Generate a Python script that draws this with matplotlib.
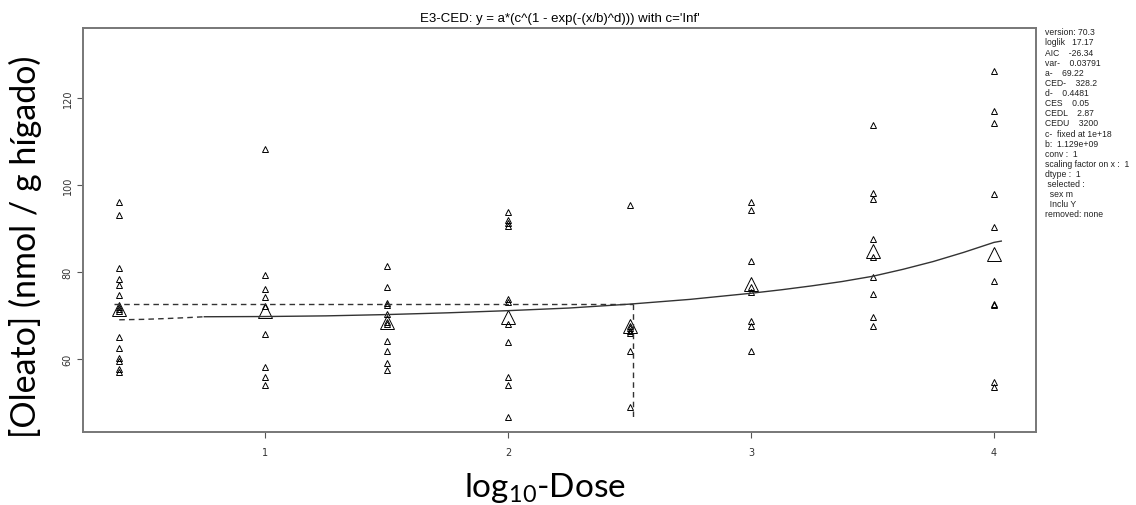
import matplotlib
matplotlib.use('Agg')
import matplotlib.pyplot as plt

# log10 dose of each group (control drawn at 0.4)
group_x = [0.4, 1.0, 1.5, 2.0, 2.5, 3.0, 3.5, 4.0]

obs = [
    [96.0, 93.2, 80.9, 78.4, 77.0, 74.8, 72.0, 71.5, 71.0, 65.0, 62.5, 60.2, 59.6, 57.7, 56.9],
    [108.3, 79.2, 76.1, 74.3, 72.2, 65.7, 58.2, 55.8, 54.0],
    [81.4, 76.6, 72.8, 72.4, 70.3, 68.5, 68.0, 64.1, 61.8, 59.0, 57.5],
    [93.9, 91.9, 91.3, 90.5, 73.8, 73.2, 68.0, 63.8, 55.8, 53.9, 46.6],
    [95.5, 67.5, 67.0, 66.5, 66.0, 61.9, 48.9],
    [96.0, 94.3, 82.5, 76.5, 75.3, 68.8, 67.5, 61.9],
    [113.9, 98.2, 96.8, 87.6, 83.4, 78.8, 74.9, 69.6, 67.5],
    [126.3, 116.9, 114.2, 97.9, 90.3, 77.9, 72.6, 72.5, 54.6, 53.5],
]

# group means (large triangles)
means = [71.5, 71.0, 68.5, 69.6, 67.6, 77.3, 84.9, 84.1]

# fitted curve
fit_x = [0.75, 1.0, 1.25, 1.5, 1.75, 2.0, 2.25, 2.5, 2.75, 2.875, 3.0, 3.125, 3.25,
         3.375, 3.5, 3.625, 3.75, 3.875, 4.0, 4.03]
fit_y = [69.7, 69.75, 69.9, 70.2, 70.6, 71.1, 71.7, 72.6, 73.7, 74.4, 75.1, 75.9, 76.8,
         77.8, 79.0, 80.6, 82.4, 84.5, 86.8, 87.1]
# dashed start of the curve near the control
start_x = [0.4, 0.5, 0.6, 0.68, 0.75]
start_y = [69.0, 69.1, 69.3, 69.5, 69.7]

ced_x = 2.516
ces_y = 72.68
ced_bottom = 46.7

info = ["version: 70.3", "loglik   17.17", "AIC    -26.34", "var-    0.03791",
        "a-    69.22", "CED-    328.2", "d-    0.4481", "CES    0.05",
        "CEDL    2.87", "CEDU    3200", "c-  fixed at 1e+18", "b:  1.129e+09",
        "conv :  1", "scaling factor on x :  1", "dtype :  1", " selected :",
        "  sex m", "  Inclu Y", "removed: none"]

fig = plt.figure(figsize=(11.36, 5.06), dpi=100)
ax = fig.add_axes([0.0731, 0.1443, 0.8389, 0.7984])

for gx, ys in zip(group_x, obs):
    ax.plot([gx] * len(ys), ys, linestyle='none', marker='^', markersize=5,
            markerfacecolor='none', markeredgecolor='black', markeredgewidth=0.7)
ax.plot(group_x, means, linestyle='none', marker='^', markersize=10.5,
        markerfacecolor='none', markeredgecolor='black', markeredgewidth=0.7)

ax.plot(fit_x, fit_y, color='#333333', linewidth=1.0)
ax.plot(start_x, start_y, color='#333333', linewidth=1.0, linestyle=(0, (4, 3)))
ax.plot([group_x[0] - 0.02, ced_x], [ces_y, ces_y], color='#333333', linewidth=1.0,
        linestyle=(0, (4, 3)))
ax.plot([ced_x, ced_x], [ces_y, ced_bottom], color='#333333', linewidth=1.0,
        linestyle=(0, (4, 3)))

ax.set_xlim(0.251, 4.173)
ax.set_ylim(43.2, 136.1)
ax.set_xticks([1, 2, 3, 4])
ax.set_yticks([60, 80, 100, 120])
ax.tick_params(labelsize=7, length=4, width=0.8, color='#555555', labelcolor='#333333')
ax.tick_params(axis='x', pad=7)
for lab in ax.get_yticklabels():
    lab.set_rotation(90)
    lab.set_va('center')
for s in ax.spines.values():
    s.set_color('#777777')
    s.set_linewidth(1.4)

ax.set_title("E3-CED: y = a*(c^(1 - exp(-(x/b)^d))) with c='Inf'",
             fontsize=9.5, family='Liberation Sans', pad=5)

fig.text(0.920, 0.944, "\n".join(info), fontsize=6.2, family='Liberation Sans',
         va='top', ha='left', linespacing=1.16, color='#222222')

plt.rcParams['mathtext.fontset'] = 'custom'
plt.rcParams['mathtext.rm'] = 'Lato'
fig.text(0.022, 0.512, "[Oleato] (nmol / g hígado)", rotation=90, fontsize=24.5,
         family='Lato', va='center', ha='center')
fig.text(0.48, 0.036, r"log$_{\mathregular{10}}$-Dose", fontsize=24, family='Lato',
         va='center', ha='center')

fig.savefig('out.png', dpi=100)
